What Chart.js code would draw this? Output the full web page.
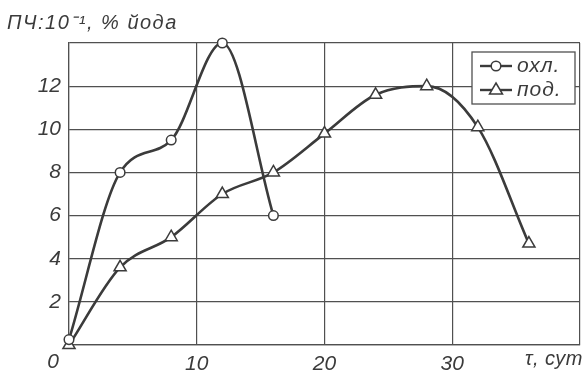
<!DOCTYPE html>
<html><head><meta charset="utf-8">
<script src="https://cdn.jsdelivr.net/npm/chart.js@4/dist/chart.umd.min.js"></script>
<style>html,body{margin:0;padding:0;background:#fff}#wrap{width:587px;height:375px;position:relative}</style>
</head><body><div id="wrap"><canvas id="c"></canvas></div>
<script>
const tauCooled = [0, 4, 8, 12, 16];
const valCooled = [0.25, 8, 9.5, 14, 6];
const tauHeated = [0, 4, 8, 12, 16, 20, 24, 28, 32, 36];
const valHeated = [0, 3.6, 5, 7, 8, 9.8, 11.6, 12, 10.1, 4.7];
const xTickLabels = ['10', '20', '30'];
const yTickLabels = ['2', '4', '6', '8', '10', '12'];
const seriesNames = ['охл.', 'под.'];
const yTitle = 'ПЧ:10⁻¹, % йода';
const xTitle = 'τ, сут';
const originLabel = '0';

const INK = '#3b3b3b';
const GRID = '#505050';
const FAM = '"Liberation Sans", Arial, sans-serif';

const toPts = (xs, ys) => xs.map((x, i) => ({x, y: ys[i]}));

const textPlugin = {
  id: 'texts',
  afterDraw(chart) {
    const ctx = chart.ctx;
    const xs = chart.scales.x;
    ctx.save();
    ctx.fillStyle = INK;
    ctx.textBaseline = 'alphabetic';
    ctx.textAlign = 'left';
    ctx.font = 'italic 20px ' + FAM;
    ctx.letterSpacing = '1.5px';
    ctx.fillText(yTitle, 7, 29);
    ctx.letterSpacing = '0.5px';
    ctx.textAlign = 'right';
    ctx.fillText(xTitle, 583, 365);
    ctx.letterSpacing = '0px';
    ctx.font = 'italic 21px ' + FAM;
    ctx.textAlign = 'center';
    ctx.textBaseline = 'middle';
    ctx.fillText(originLabel, xs.getPixelForValue(0) - 16, 362);
    // legend
    const bx = 472, by = 52, bw = 103, bh = 52;
    ctx.fillStyle = '#fff';
    ctx.fillRect(bx, by, bw, bh);
    ctx.strokeStyle = GRID;
    ctx.lineWidth = 1.3;
    ctx.strokeRect(bx, by, bw, bh);
    const rows = [by + 14, by + 38];
    ctx.font = 'italic 21px ' + FAM;
    ctx.letterSpacing = '1px';
    ctx.strokeStyle = INK;
    rows.forEach((ry, i) => {
      ctx.lineWidth = 2.4;
      ctx.beginPath(); ctx.moveTo(480, ry); ctx.lineTo(512, ry); ctx.stroke();
      ctx.fillStyle = '#fff';
      ctx.lineWidth = 1.5;
      ctx.beginPath();
      if (i === 0) { ctx.arc(496, ry, 4.8, 0, Math.PI * 2); }
      else { ctx.moveTo(496, ry - 7); ctx.lineTo(502.5, ry + 4); ctx.lineTo(489.5, ry + 4); ctx.closePath(); }
      ctx.fill(); ctx.stroke();
      ctx.fillStyle = INK;
      ctx.textAlign = 'left';
      ctx.fillText(seriesNames[i], 517, ry);
    });
    ctx.restore();
  }
};

new Chart(document.getElementById('c'), {
  type: 'line',
  data: {
    datasets: [
      { label: seriesNames[0], data: toPts(tauCooled, valCooled), borderColor: INK, borderWidth: 2.6,
        cubicInterpolationMode: 'monotone', pointStyle: 'circle', pointRadius: 4.8, clip: false,
        pointBackgroundColor: '#fff', pointBorderColor: INK, pointBorderWidth: 1.5, fill: false },
      { label: seriesNames[1], data: toPts(tauHeated, valHeated), borderColor: INK, borderWidth: 2.6,
        cubicInterpolationMode: 'monotone', pointStyle: 'triangle', pointRadius: 7, clip: false,
        pointBackgroundColor: '#fff', pointBorderColor: INK, pointBorderWidth: 1.5, fill: false }
    ]
  },
  options: {
    responsive: true, maintainAspectRatio: false, animation: false,
    layout: { autoPadding: false, padding: { top: 43, right: 3, left: 0, bottom: 0 } },
    plugins: { legend: { display: false }, tooltip: { enabled: false } },
    scales: {
      x: {
        type: 'linear', min: 0, max: 40,
        afterFit: s => { s.height = 30; },
        grid: { color: GRID, lineWidth: 1.2, drawTicks: false },
        border: { color: GRID, width: 1.2 },
        ticks: { stepSize: 10, color: INK, font: { family: FAM, size: 21, style: 'italic' }, padding: 7,
          callback: v => { const s = String(v); return xTickLabels.includes(s) ? s : ''; } }
      },
      y: {
        min: 0, max: 14,
        afterFit: s => { s.width = 69; },
        grid: { color: GRID, lineWidth: 1.2, drawTicks: false },
        border: { color: GRID, width: 1.2 },
        ticks: { stepSize: 2, color: INK, font: { family: FAM, size: 21, style: 'italic' }, padding: 8,
          callback: v => { const s = String(v); return yTickLabels.includes(s) ? s : ''; } }
      }
    }
  },
  plugins: [textPlugin]
});
</script></body></html>
